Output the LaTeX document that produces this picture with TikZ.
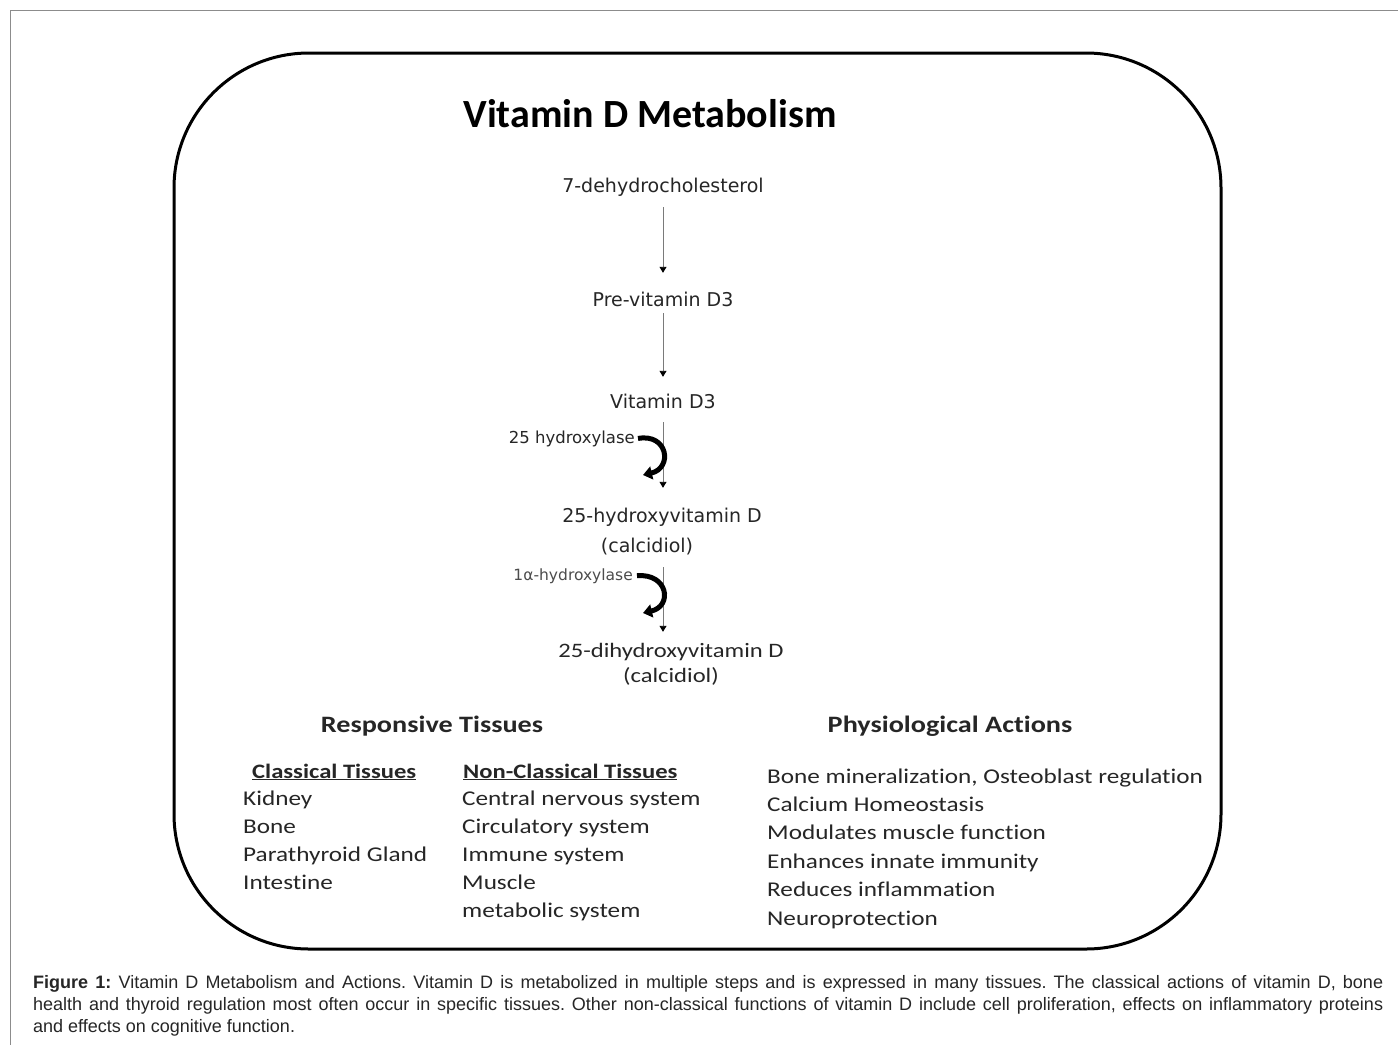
\documentclass[tikz,border=0pt]{standalone}
\usepackage{fontspec}
\setmainfont{Carlito}
\newfontfamily\calw[FakeStretch=1.2,Ligatures=NoCommon]{Carlito}
\newfontfamily\dvs{DejaVu Sans}
\newfontfamily\capfont{Liberation Sans}
\usetikzlibrary{arrows.meta}
\definecolor{ink}{HTML}{262626}
\definecolor{framegray}{HTML}{8C8C8C}
\definecolor{linegray}{HTML}{7A7A7A}
\begin{document}
\begin{tikzpicture}[x=1pt,y=-1pt,
  chain/.style={inner sep=0pt, anchor=base, text=ink, font=\dvs\fontsize{19}{22}\selectfont, text height=14pt, text depth=5pt},
  chainb/.style={inner sep=0pt, anchor=base, text=ink, font=\calw\fontsize{20.5}{24}\selectfont, text height=15pt, text depth=5pt},
  enzlbl/.style={inner sep=0pt, anchor=base east, text=ink, font=\dvs\fontsize{16.5}{18}\selectfont},
  flow/.style={draw=linegray, line width=0.9pt, -{Triangle[length=6pt,width=7pt,black]}},
  enz/.style={line width=5pt, black, -{Triangle[length=9pt,width=13pt]}},
  head/.style={inner sep=0pt, anchor=base, text=ink, font=\calw\bfseries\fontsize{23.5}{28}\selectfont},
  subhead/.style={inner sep=0pt, anchor=base west, text=ink, font=\calw\bfseries\fontsize{20.5}{24}\selectfont},
  listtxt/.style={inner sep=0pt, anchor=base west, text=ink, font=\calw\fontsize{21}{28}\selectfont},
  capt/.style={inner sep=0pt, anchor=base west, text=ink, font=\capfont\frenchspacing\fontsize{18}{22}\selectfont},
]
\useasboundingbox[fill=white] (0,0) rectangle (1398,1045);
% outer frame
\draw[framegray, line width=1.5pt] (1398,10.5) -- (10.5,10.5) -- (10.5,1045);
% rounded box
\draw[line width=3pt, rounded corners=135pt] (174,53) rectangle (1221,949);

% title
\node[inner sep=0pt, anchor=base, font=\bfseries\fontsize{40}{48}\selectfont] (title) at (650,127) {Vitamin D Metabolism};

% chain
\node[chain] (n1) at (663,192) {7-dehydrocholesterol};
\node[chain] (n2) at (663,306) {Pre-vitamin D3};
\node[chain] (n3) at (663,408) {Vitamin D3};
\node[chain] (n4) at (662,522) {25-hydroxyvitamin D};
\node[chain] (n5) at (647,552) {(calcidiol)};
\node[chainb] (n6) at (671,657) {25-dihydroxyvitamin D};
\node[chainb] (n7) at (671,682) {(calcidiol)};

\draw[flow, shorten <=10pt, shorten >=19pt] (n1) -- (n2);
\draw[flow, shorten <=2pt, shorten >=17pt] (n2) -- (n3);
\draw[flow, shorten <=9pt, shorten >=20pt] (n3.south) -- (n3.south |- n4.north);
\draw[flow, shorten <=10pt, shorten >=10pt] (n3.south |- n5.south) -- (n3.south |- n6.north);

% enzymes
\node[enzlbl] (e1) at (635,443) {25 hydroxylase};
\node[enzlbl, font=\dvs\fontsize{15.5}{18}\selectfont, text=black!70] (e2) at (633,580) {1α-hydroxylase};
\coordinate (t1) at (643,475);
\coordinate (t2) at (643,613);
\draw[enz] ([xshift=3pt]e1.east) .. controls (668,433) and (673,468) .. (t1);
\draw[enz] ([xshift=4pt]e2.east) .. controls (668,573) and (673,606) .. (t2);

% lower section
\node[head] (rt) at (432,732) {Responsive Tissues};
\node[head] (pa) at (950,732) {Physiological Actions};
\node[subhead] (ct) at (252,778) {\underline{Classical Tissues}};
\node[subhead] (nct) at (463,778) {\underline{Non-Classical Tissues}};

\foreach \t [count=\i from 0] in {Kidney, Bone, Parathyroid Gland, Intestine}
  \node[listtxt] (cl\i) at (243,805+28*\i) {\t};
\foreach \t [count=\i from 0] in {Central nervous system, Circulatory system, Immune system, Muscle, metabolic system}
  \node[listtxt] (nc\i) at (462,805+28*\i) {\t};
\foreach \t [count=\i from 0] in {{Bone mineralization, Osteoblast regulation}, Calcium Homeostasis, Modulates muscle function, Enhances innate immunity, Reduces inflammation, Neuroprotection}
  \node[listtxt] (pa\i) at (767,783+28.4*\i) {\t};

% caption
\node[capt] (cap1) at (33,988) {\hbox to 1350pt{\textbf{Figure 1:} Vitamin D Metabolism and Actions. Vitamin D is metabolized in multiple steps and is expressed in many tissues. The classical actions of vitamin D, bone}};
\node[capt] (cap2) at (33,1010) {\hbox to 1350pt{health and thyroid regulation most often occur in specific tissues. Other non-classical functions of vitamin D include cell proliferation, effects on inflammatory proteins}};
\node[capt] (cap3) at (33,1032) {and effects on cognitive function.};
\end{tikzpicture}
\end{document}
